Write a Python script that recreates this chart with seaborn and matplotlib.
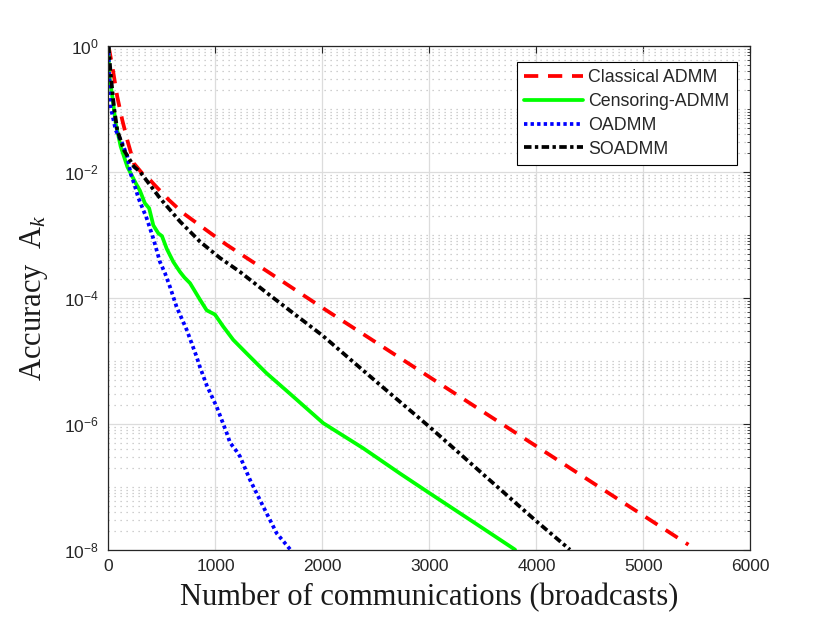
import numpy as np
import pandas as pd
import matplotlib
matplotlib.use("Agg")
import matplotlib.pyplot as plt
import seaborn as sns
from matplotlib.ticker import LogLocator, NullFormatter

# curves (x = broadcasts, y = accuracy)
methods = ["Classical ADMM", "Censoring-ADMM", "OADMM", "SOADMM"]

classical_x = [0, 36, 82, 129, 176, 238, 332, 388, 425, 565, 699, 918, 1105, 1292,
               1500, 2000, 2500, 3000, 3500, 4000, 4500, 5000, 5420]
classical_y = [1, 0.468, 0.155, 0.066, 0.0316, 0.0135, 0.0087, 0.0074, 0.0063, 0.00355,
               0.00219, 0.00117, 6.9e-4, 4.27e-4, 2.51e-4, 6.9e-5, 1.95e-5, 5.5e-6,
               1.55e-6, 4.37e-7, 1.23e-7, 3.47e-8, 1.2e-8]

censoring_x = [0, 5, 36, 67, 114, 176, 254, 294, 340, 380, 419, 466, 500, 544, 606, 668,
               710, 762, 855, 918, 995, 1073, 1166, 1300, 1478, 1700, 2007, 2381, 2724,
               3000, 3400, 3800]
censoring_y = [1, 0.363, 0.155, 0.0589, 0.0251, 0.0120, 0.0066, 0.0050, 0.00316, 0.00263,
               0.00141, 0.00105, 9.5e-4, 6.0e-4, 3.7e-4, 2.57e-4, 2.09e-4, 1.70e-4, 9.3e-5,
               6.3e-5, 5.4e-5, 3.47e-5, 2.14e-5, 1.26e-5, 6.3e-6, 2.95e-6, 1.02e-6, 4.07e-7,
               1.62e-7, 7.9e-8, 2.82e-8, 1.0e-8]

oadmm_x = [0, 5, 20, 67, 129, 176, 207, 238, 280, 357, 419, 481, 528, 575, 637, 731, 824,
           855, 918, 980, 1011, 1105, 1136, 1198, 1229, 1322, 1447, 1572, 1700]
oadmm_y = [1, 0.363, 0.107, 0.0457, 0.0282, 0.0174, 0.0093, 0.0066, 0.0038, 0.00182,
           8.7e-4, 3.7e-4, 2.45e-4, 1.48e-4, 7.1e-5, 3.09e-5, 1.15e-5, 7.9e-6, 4.07e-6,
           2.4e-6, 1.86e-6, 7.1e-7, 5.0e-7, 3.63e-7, 3.02e-7, 1.29e-7, 4.8e-8, 1.82e-8, 1.0e-8]

soadmm_x = [0, 20, 51, 82, 145, 238, 294, 481, 668, 855, 1042, 1229, 1500, 2000, 2500,
            3000, 3500, 4000, 4313]
soadmm_y = [1, 0.363, 0.107, 0.0457, 0.0219, 0.0120, 0.0100, 0.0038, 0.00162, 7.76e-4,
            4.27e-4, 2.57e-4, 1.12e-4, 2.51e-5, 4.68e-6, 8.9e-7, 1.58e-7, 2.82e-8, 1.0e-8]

x_ticks = [0, 1000, 2000, 3000, 4000, 5000, 6000]
y_ticks = [1e-8, 1e-6, 1e-4, 1e-2, 1]

colors = {"Classical ADMM": "#ff0000", "Censoring-ADMM": "#00ff00",
          "OADMM": "#0000ff", "SOADMM": "#000000"}
dashes = {"Classical ADMM": (3.8, 2.6), "Censoring-ADMM": "",
          "OADMM": (0.9, 0.85), "SOADMM": (2.0, 0.9, 0.9, 0.9)}
LW = 2.7


def build_frame():
    parts = []
    for name, xs, ys in [(methods[0], classical_x, classical_y),
                         (methods[1], censoring_x, censoring_y),
                         (methods[2], oadmm_x, oadmm_y),
                         (methods[3], soadmm_x, soadmm_y)]:
        parts.append(pd.DataFrame({"x": xs, "y": ys, "method": name}))
    return pd.concat(parts, ignore_index=True)


def main():
    sns.set_theme(style="white")
    plt.rcParams["font.family"] = ["Liberation Sans", "DejaVu Sans"]
    plt.rcParams["mathtext.fontset"] = "custom"
    plt.rcParams["mathtext.it"] = "Liberation Serif:italic"
    plt.rcParams["mathtext.rm"] = "Liberation Serif"
    plt.rcParams["axes.unicode_minus"] = False

    df = build_frame()
    fig = plt.figure(figsize=(8.3, 6.23), dpi=100)
    ax = fig.add_axes([0.1307, 0.1177, 0.7735, 0.809])

    sns.lineplot(data=df, x="x", y="y", hue="method", style="method",
                 hue_order=methods, style_order=methods, palette=colors,
                 dashes=dashes, linewidth=LW, estimator=None, sort=False, ax=ax)

    ax.set_yscale("log")
    ax.set_xlim(0, 6000)
    ax.set_ylim(1e-8, 1)
    ax.set_xticks(x_ticks)
    ax.set_yticks(y_ticks)
    ax.yaxis.set_minor_locator(LogLocator(base=10, subs=np.arange(1, 10), numticks=50))
    ax.yaxis.set_minor_formatter(NullFormatter())

    ax.grid(True, which="major", color="#dcdcdc", linewidth=0.9, linestyle="-")
    ax.grid(True, which="minor", axis="y", color="#c0c0c0", linewidth=0.9,
            linestyle=(0, (1, 3.8)))
    ax.set_axisbelow(True)

    for sp in ax.spines.values():
        sp.set_color("#262626")
        sp.set_linewidth(0.9)
    ax.tick_params(which="both", direction="in", top=True, right=True,
                   colors="#262626", labelsize=12.5)
    ax.tick_params(which="major", length=4.8, width=0.8, pad=7)
    ax.tick_params(which="minor", length=2.5, width=0.6)

    ax.set_xlabel("Number of communications (broadcasts)", fontsize=22,
                  family="Liberation Serif", labelpad=6, color="#1a1a1a")
    ax.set_ylabel(r"Accuracy  A$_k$", fontsize=22, family="Liberation Serif",
                  labelpad=10, color="#1a1a1a")

    handles, labels = ax.get_legend_handles_labels()
    leg = ax.legend(handles, labels, loc="upper right",
                    bbox_to_anchor=(1 - 13.5 / 642, 1 - 16.3 / 504),
                    borderaxespad=0, fontsize=12.8, handlelength=3.3,
                    handletextpad=0.3, labelspacing=0.38, borderpad=0.42,
                    fancybox=False, framealpha=1, edgecolor="black")
    leg.get_frame().set_linewidth(0.8)
    for line in leg.get_lines():
        line.set_linewidth(LW)

    fig.savefig("out.png", dpi=100, facecolor="white")


if __name__ == "__main__":
    main()
